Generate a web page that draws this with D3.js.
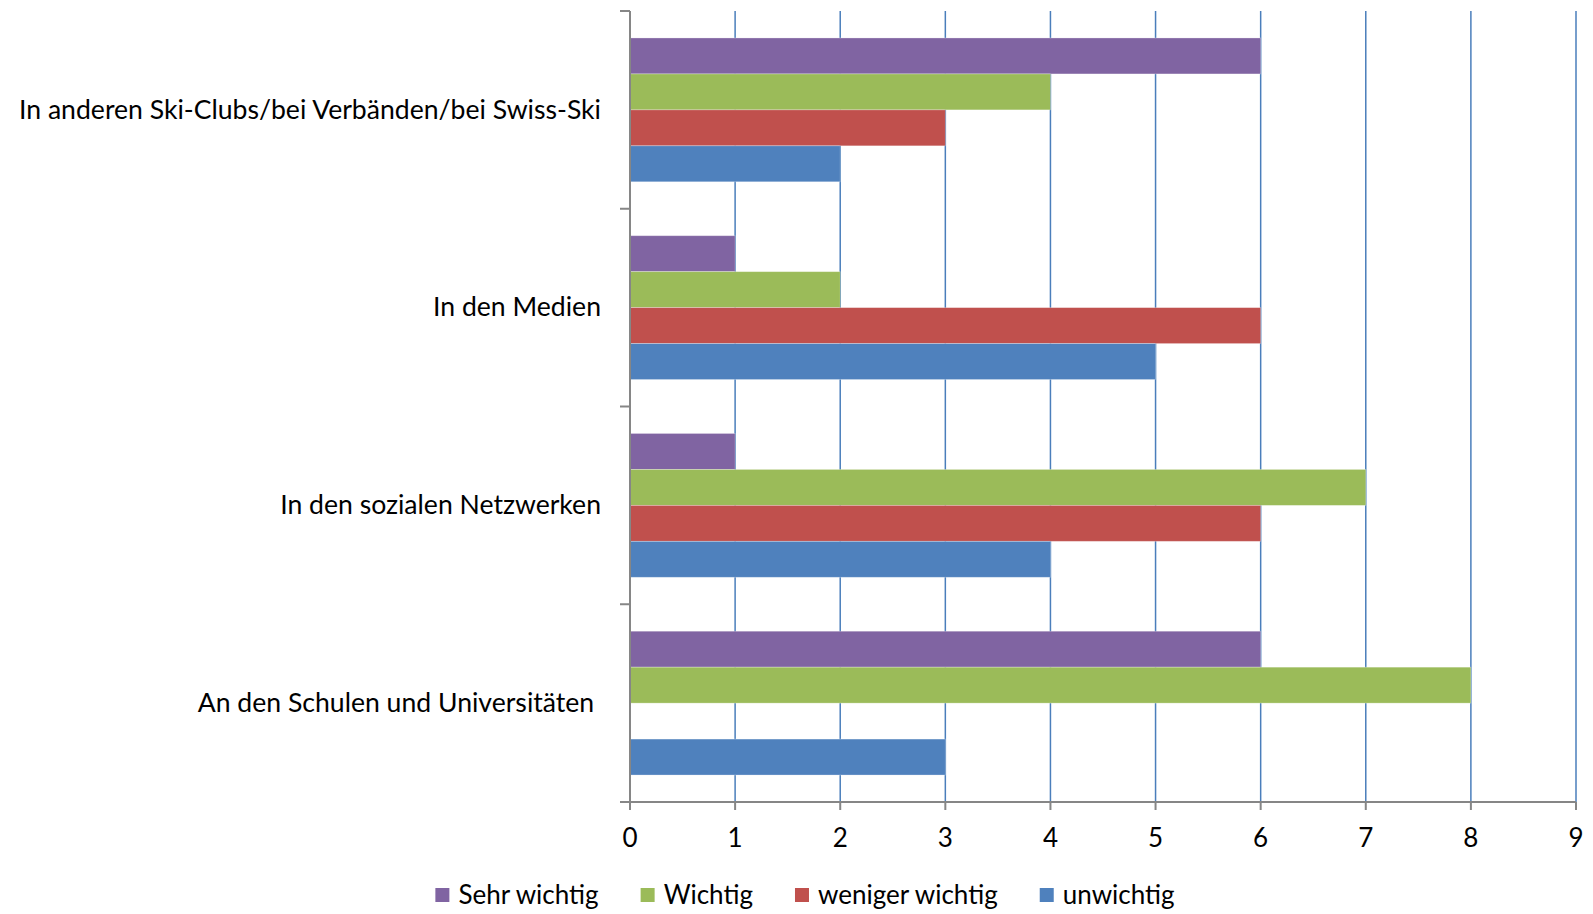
<!DOCTYPE html>
<html><head><meta charset="utf-8">
<script src="https://cdn.jsdelivr.net/npm/d3@7"></script>
<style>
html,body{margin:0;padding:0;background:#fff;}
svg text{font-family:Lato,"Open Sans",sans-serif;fill:#000;}
</style></head>
<body><svg id="chart" width="1593" height="914"></svg>
<script>
const categories = ["In anderen Ski-Clubs/bei Verbänden/bei Swiss-Ski", "In den Medien", "In den sozialen Netzwerken", "An den Schulen und Universitäten "];
const seriesNames = ["Sehr wichtig", "Wichtig", "weniger wichtig", "unwichtig"];
const sehrWichtig = [6, 1, 1, 6];
const wichtig = [4, 2, 7, 8];
const wenigerWichtig = [3, 6, 6, 0];
const unwichtig = [2, 5, 4, 3];
const xTicks = [0, 1, 2, 3, 4, 5, 6, 7, 8, 9];
const colors = ["#8064A2", "#9BBB59", "#C0504D", "#4F81BD"];

const seriesValues = [sehrWichtig, wichtig, wenigerWichtig, unwichtig];
const svg = d3.select("#chart");
const L = 630, R = 1576, T = 11, B = 802;

const x = d3.scaleLinear().domain([0, 9]).range([L, R]);
const y0 = d3.scaleBand().domain(categories).range([T, B]).padding(0);
const y1 = d3.scaleBand().domain(seriesNames).range([0, y0.bandwidth()]).paddingInner(0).paddingOuter(0.75);

// gridlines
svg.append("g").selectAll("line").data(xTicks.filter(d => d > 0)).join("line")
  .attr("x1", d => x(d)).attr("x2", d => x(d)).attr("y1", T).attr("y2", B)
  .attr("stroke", "#4A7EBB").attr("stroke-width", 1.5);

// bars
const groups = svg.append("g").selectAll("g").data(categories).join("g")
  .attr("transform", d => `translate(0,${y0(d)})`);
groups.selectAll("rect").data((c, ci) => seriesNames.map((s, si) => ({s, si, v: seriesValues[si][ci]})))
  .join("rect")
  .attr("x", x(0)).attr("y", d => y1(d.s))
  .attr("width", d => x(d.v) - x(0)).attr("height", y1.bandwidth())
  .attr("fill", d => colors[d.si])
  .attr("stroke", d => d.v > 0 ? "rgba(255,255,255,0.35)" : "none").attr("stroke-width", 0.8);

// y axis
const ax = svg.append("g").attr("stroke", "#868686").attr("stroke-width", 2);
ax.append("line").attr("x1", L).attr("x2", L).attr("y1", T).attr("y2", B);
const yTickPos = categories.map(c => y0(c)).concat([B]);
ax.selectAll(".yt").data(yTickPos).join("line").attr("class", "yt")
  .attr("x1", L - 10).attr("x2", L).attr("y1", d => d).attr("y2", d => d);
// x axis
ax.append("line").attr("x1", L - 10).attr("x2", R).attr("y1", B).attr("y2", B);
ax.selectAll(".xt").data(xTicks).join("line").attr("class", "xt")
  .attr("x1", d => x(d)).attr("x2", d => x(d)).attr("y1", B).attr("y2", B + 8);

// x tick labels
svg.append("g").selectAll("text").data(xTicks).join("text")
  .attr("x", d => x(d)).attr("y", 838).attr("dy", "0.35em")
  .attr("text-anchor", "middle").attr("font-size", 26).text(d => d);

// category labels
svg.append("g").selectAll("text").data(categories).join("text")
  .attr("x", 601).attr("y", d => y0(d) + y0.bandwidth() / 2).attr("dy", "0.33em")
  .attr("text-anchor", "end").attr("font-size", 26.6).style("white-space", "pre")
  .attr("xml:space", "preserve").text(d => d);

// legend
const leg = svg.append("g");
const items = leg.selectAll("g").data(seriesNames).join("g");
items.append("rect").attr("width", 14).attr("height", 14).attr("y", 888).attr("fill", (d, i) => colors[i]);
items.append("text").attr("x", 23).attr("y", 895).attr("dy", "0.35em").attr("font-size", 26).text(d => d);
let cx = 0;
const offs = [];
items.each(function() {
  offs.push(cx);
  const w = d3.select(this).select("text").node().getComputedTextLength();
  cx += 23 + w + 42;
});
const total = cx - 42;
const start = 805 - total / 2;
items.attr("transform", (d, i) => `translate(${start + offs[i]},0)`);
</script></body></html>
